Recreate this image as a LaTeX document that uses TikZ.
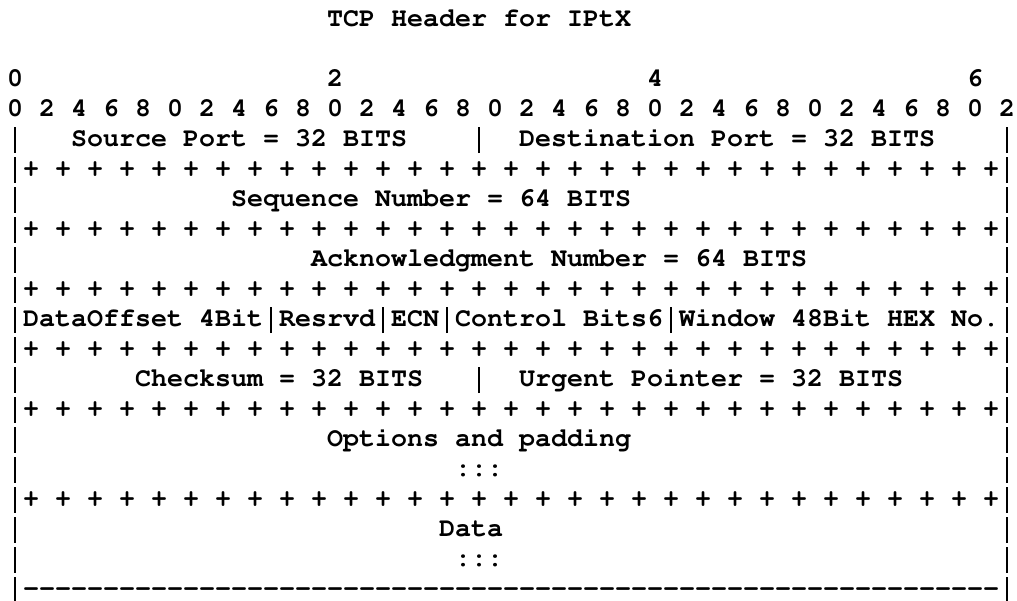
\documentclass[tikz,border=0pt]{standalone}
\usepackage[T1]{fontenc}
\usepackage{courier}
\ExplSyntaxOn
\cs_new:Npn \myrep #1#2 { \prg_replicate:nn {#1} {#2} }
\ExplSyntaxOff
\newcommand\sps[1]{\myrep{#1}{\ }}
\newcommand\vb{\makebox[.6em]{\rule[-7pt]{2.6pt}{26pt}}}
\newcommand\plusrow{\vb\myrep{30}{+\ }+\vb}
\newcommand\fixspace{\spaceskip=.6em\relax\frenchspacing}
\tikzset{
  asciiline/.style={anchor=base west, inner sep=0pt, outer sep=0pt,
    font=\fontsize{26.67}{30}\selectfont\ttfamily\bfseries,
    execute at begin node=\fixspace}
}
\begin{document}
\begin{tikzpicture}[x=1pt,y=-1pt]
\useasboundingbox (0,0) rectangle (1017,600);
\node[asciiline] (l0)  at (7,26)  {\sps{20}TCP Header for IPtX};
\node[asciiline] (l2)  at (7,86)  {0\sps{19}2\sps{19}4\sps{19}6};
\node[asciiline] (l3)  at (7,116) {\myrep{6}{0 2 4 6 8 }0 2};
\node[asciiline] (l4)  at (7,146) {\vb\sps{3}Source Port = 32 BITS\sps{4}\vb\sps{2}Destination Port = 32 BITS\sps{4}\vb};
\node[asciiline] (l5)  at (7,176) {\plusrow};
\node[asciiline] (l6)  at (7,206) {\vb\sps{13}Sequence Number = 64 BITS\sps{23}\vb};
\node[asciiline] (l7)  at (7,236) {\plusrow};
\node[asciiline] (l8)  at (7,266) {\vb\sps{18}Acknowledgment Number = 64 BITS\sps{12}\vb};
\node[asciiline] (l9)  at (7,296) {\plusrow};
\node[asciiline] (l10) at (7,326) {\vb DataOffset 4Bit\vb Resrvd\vb ECN\vb Control Bits6\vb Window 48Bit HEX No.\vb};
\node[asciiline] (l11) at (7,356) {\plusrow};
\node[asciiline] (l12) at (7,386) {\vb\sps{7}Checksum = 32 BITS\sps{3}\vb\sps{2}Urgent Pointer = 32 BITS\sps{6}\vb};
\node[asciiline] (l13) at (7,416) {\plusrow};
\node[asciiline] (l14) at (7,446) {\vb\sps{19}Options and padding\sps{23}\vb};
\node[asciiline] (l15) at (7,476) {\vb\sps{27}:::\sps{31}\vb};
\node[asciiline] (l16) at (7,506) {\plusrow};
\node[asciiline] (l17) at (7,536) {\vb\sps{26}Data\sps{31}\vb};
\node[asciiline] (l18) at (7,566) {\vb\sps{27}:::\sps{31}\vb};
\node[asciiline] (l19) at (7,596) {\vb\myrep{61}{-{}}\vb};
\end{tikzpicture}
\end{document}
